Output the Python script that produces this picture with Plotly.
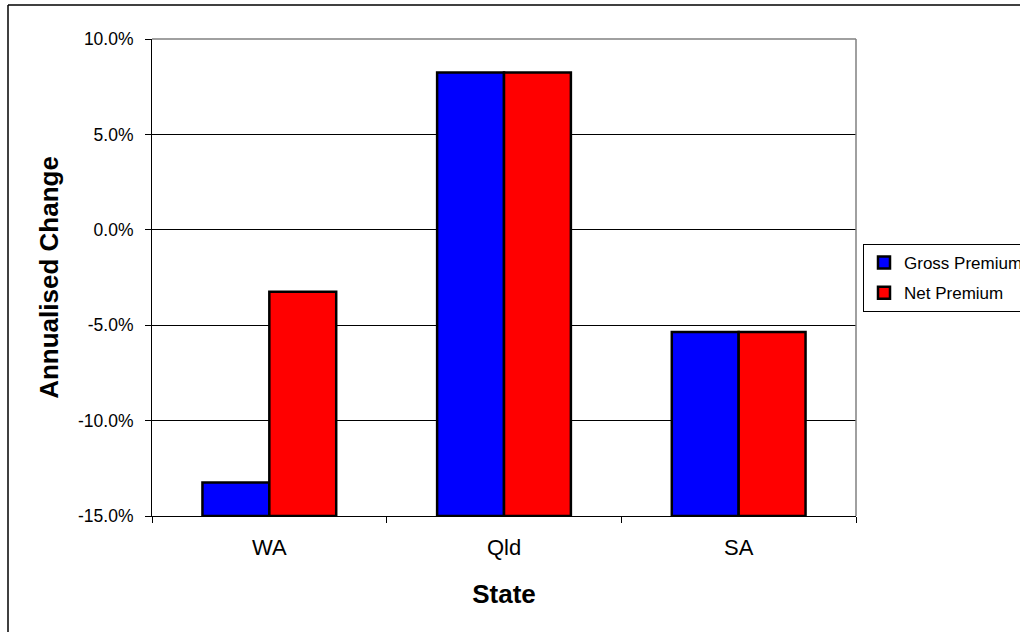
import plotly.graph_objects as go

# Annualised premium change by state
states = ["WA", "Qld", "SA"]
gross_premium = [-0.1325, 0.0825, -0.0535]
net_premium = [-0.0325, 0.0825, -0.0535]

y_ticks = [-0.15, -0.10, -0.05, 0.0, 0.05, 0.10]
y_tick_labels = ["-15.0%", "-10.0%", "-5.0%", "0.0%", "5.0%", "10.0%"]

y_min, y_max = -0.15, 0.10

W, H = 1020, 632
L, R, T, B = 152, 164, 39, 116
pw, ph = W - L - R, H - T - B


def px_x(x):
    return (x - L) / pw


def px_y(y):
    return (H - B - y) / ph


FONT = "Arial, 'Liberation Sans', sans-serif"

fig = go.Figure()
# columns rise from the bottom of the value axis, as in the spreadsheet original
for name, vals, color in [("Gross Premium", gross_premium, "#0000ff"),
                          ("Net Premium", net_premium, "#ff0000")]:
    fig.add_trace(go.Bar(
        x=states,
        y=[v - y_min for v in vals],
        base=y_min,
        name=name,
        legendgroup=name,
        marker=dict(color=color, line=dict(color="black", width=2.5)),
        customdata=vals,
        hovertemplate="%{x}: %{customdata:.1%}<extra>" + name + "</extra>",
    ))

fig.update_layout(
    width=W, height=H,
    margin=dict(l=L, r=R, t=T, b=B, autoexpand=False),
    paper_bgcolor="white", plot_bgcolor="white",
    font=dict(family=FONT, color="black"),
    barmode="group", bargap=0.43, bargroupgap=0,
    showlegend=True,
    legend=dict(
        x=px_x(863), y=px_y(244), xanchor="left", yanchor="top",
        bordercolor="black", borderwidth=1, bgcolor="white",
        font=dict(family=FONT, size=17, color="black"),
        tracegroupgap=5, traceorder="grouped",
    ),
    xaxis=dict(
        type="category", categoryorder="array", categoryarray=states,
        tickson="boundaries", ticks="outside", ticklen=6, tickcolor="black",
        showline=True, linecolor="black", linewidth=1,
        showgrid=False, zeroline=False,
        tickfont=dict(family=FONT, size=22, color="black"),
        ticklabelstandoff=12,
        title=dict(text="<b>State</b>", font=dict(family=FONT, size=26, color="black"),
                   standoff=25),
    ),
    yaxis=dict(
        range=[y_min, y_max], tickmode="array",
        tickvals=y_ticks, ticktext=y_tick_labels,
        ticks="outside", ticklen=6, tickcolor="black",
        showline=True, linecolor="black", linewidth=1,
        showgrid=True, gridcolor="black", gridwidth=1, zeroline=False,
        tickfont=dict(family=FONT, size=17.5, color="black"),
        ticklabelstandoff=8,
        title=dict(text="<b>Annualised Change</b>",
                   font=dict(family=FONT, size=26, color="black"), standoff=11),
    ),
    shapes=[
        # plot-area frame on the top and right edges
        dict(type="line", xref="paper", yref="paper", x0=0, x1=1, y0=1, y1=1,
             line=dict(color="#808080", width=1.5), layer="above"),
        dict(type="line", xref="paper", yref="paper", x0=1, x1=1, y0=0, y1=1,
             line=dict(color="#808080", width=1.5), layer="above"),
        # chart-area border
        dict(type="line", xref="paper", yref="paper",
             x0=px_x(8), x1=px_x(W + 20), y0=px_y(5), y1=px_y(5),
             line=dict(color="black", width=1.5), layer="above"),
        dict(type="line", xref="paper", yref="paper",
             x0=px_x(8), x1=px_x(8), y0=px_y(5), y1=px_y(H + 20),
             line=dict(color="black", width=1.5), layer="above"),
    ],
)

fig.write_html("out.html")
